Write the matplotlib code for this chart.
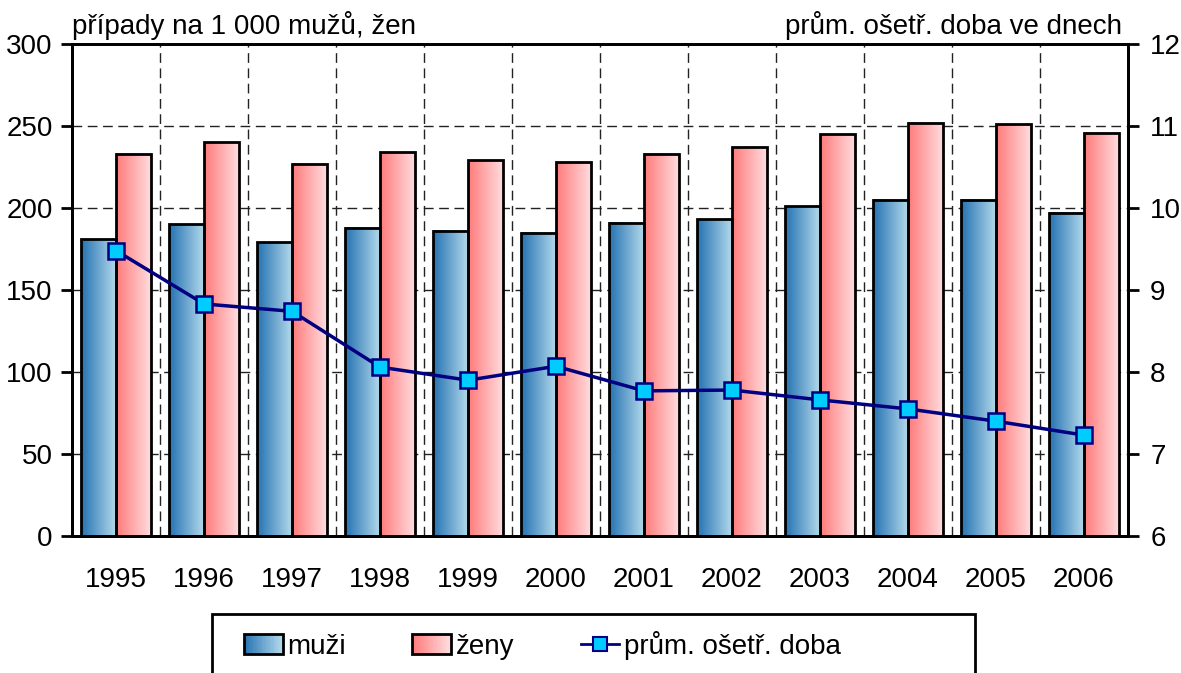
import matplotlib
matplotlib.use('Agg')
import matplotlib.pyplot as plt
import numpy as np
from matplotlib.patches import Rectangle
from matplotlib.lines import Line2D
from matplotlib.colors import LinearSegmentedColormap
from matplotlib.legend_handler import HandlerBase

plt.rcParams['font.family'] = ['Liberation Sans Narrow', 'Liberation Sans', 'DejaVu Sans']

# data
years = ['1995', '1996', '1997', '1998', '1999', '2000',
         '2001', '2002', '2003', '2004', '2005', '2006']
muzi = [181, 190, 179, 188, 186, 185, 191, 193, 201, 205, 205, 197]
zeny = [233, 240, 227, 234, 229, 228, 233, 237, 245, 252, 251, 246]
doba = [9.48, 8.83, 8.74, 8.06, 7.90, 8.07, 7.77, 7.78, 7.66, 7.55, 7.40, 7.23]

blue_cmap = LinearSegmentedColormap.from_list('b', ['#2572b2', '#b5dbec'])
red_cmap = LinearSegmentedColormap.from_list('r', ['#ff7a7a', '#ffdfe2'])
navy = '#000080'
fs = 20


class GradHandler(HandlerBase):
    # legend key drawn as a horizontal gradient box
    def __init__(self, cmap):
        super().__init__()
        self.cmap = cmap

    def create_artists(self, legend, orig_handle, xdescent, ydescent,
                       width, height, fontsize, trans):
        arts = []
        n = 30
        for i in range(n):
            arts.append(Rectangle((-xdescent + width * i / n, -ydescent),
                                  width / n + 0.4, height,
                                  facecolor=self.cmap((i + 0.5) / n),
                                  edgecolor='none', transform=trans))
        arts.append(Rectangle((-xdescent, -ydescent), width, height,
                              facecolor='none', edgecolor='black', lw=2,
                              transform=trans))
        return arts


fig = plt.figure(figsize=(11.81, 6.73), dpi=100)
ax = fig.add_axes([72 / 1181, 137 / 673, 1056 / 1181, 492 / 673])

x = np.arange(len(years))
w = 0.4
bm = ax.bar(x - w / 2, muzi, w, facecolor='none', edgecolor='black', lw=2, zorder=3)
bz = ax.bar(x + w / 2, zeny, w, facecolor='none', edgecolor='black', lw=2, zorder=3)

# gradient fills
grad = np.linspace(0, 1, 256).reshape(1, -1)
for bars, cmap in ((bm, blue_cmap), (bz, red_cmap)):
    for b in bars:
        ax.imshow(grad, cmap=cmap, aspect='auto', zorder=2,
                  extent=[b.get_x(), b.get_x() + b.get_width(), 0, b.get_height()])

ax.set_xlim(-0.5, len(years) - 0.5)
ax.set_ylim(0, 300)
ax.set_yticks(np.arange(0, 301, 50))
ax.set_xticks(x, years)
ax.set_xticks(x[:-1] + 0.5, minor=True)
ax.set_axisbelow(True)
ax.yaxis.grid(True, ls=(0, (7, 4)), color='#222222', lw=1)
ax.xaxis.grid(True, which='minor', ls=(0, (7, 4)), color='#222222', lw=1)
ax.tick_params(axis='x', which='both', length=0, labelsize=fs, pad=22)
ax.tick_params(axis='y', direction='out', length=8, width=2, labelsize=fs, pad=6)

ax2 = ax.twinx()
ax2.plot(x, doba, color=navy, lw=2.5, marker='s', ms=12, mfc='#00ccff',
         mec=navy, mew=1.8, zorder=5)
ax2.set_ylim(6, 12)
ax2.set_yticks(np.arange(6, 13, 1))
ax2.tick_params(axis='y', direction='out', length=8, width=2, labelsize=fs, pad=8)

for a in (ax, ax2):
    for s in a.spines.values():
        s.set_linewidth(2)

ax.text(0, 1.008, 'případy na 1 000 mužů, žen', transform=ax.transAxes,
        ha='left', va='bottom', fontsize=fs)
ax.text(0.994, 1.008, 'prům. ošetř. doba ve dnech', transform=ax.transAxes,
        ha='right', va='bottom', fontsize=fs)

# legend with its own frame (runs off the bottom edge like the original)
fig.patches.append(Rectangle((212 / 1181, -0.1), (975 - 212) / 1181, 0.1 + (673 - 614) / 673,
                             transform=fig.transFigure, fill=False,
                             edgecolor='black', lw=2))
h1 = Rectangle((0, 0), 1, 1)
h2 = Rectangle((0, 0), 1, 1)
h3 = Line2D([], [], color=navy, lw=2, marker='s', ms=10, mfc='#00ccff', mec=navy, mew=1.5)
fig.legend([h1, h2, h3], ['muži', 'ženy', 'prům. ošetř. doba'],
           handler_map={h1: GradHandler(blue_cmap), h2: GradHandler(red_cmap)},
           loc='center left', bbox_to_anchor=(244 / 1181, 1 - 645 / 673),
           ncol=3, frameon=False, borderpad=0, borderaxespad=0,
           handlelength=1.4, handleheight=0.7, handletextpad=0.15,
           columnspacing=2.4, fontsize=fs)

fig.savefig('out.png', dpi=100)
